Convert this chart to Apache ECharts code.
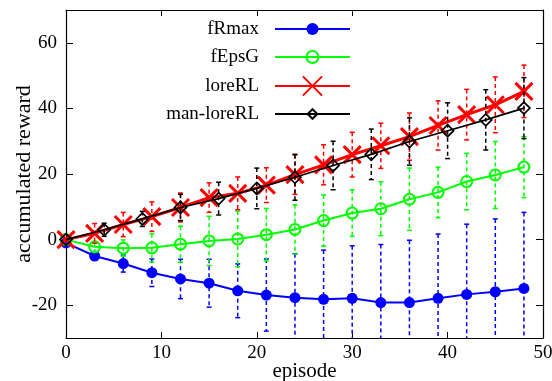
<!DOCTYPE html>
<html>
<head>
<meta charset="utf-8">
<script src="https://cdn.jsdelivr.net/npm/echarts@6/dist/echarts.min.js"></script>
<style>html,body{margin:0;padding:0;background:#fff;}#c{width:552px;height:381px;}</style>
</head>
<body>
<div id="c"></div>
<script>
// ---- data ----
const episodes3 = [0,3,6,9,12,15,18,21,24,27,30,33,36,39,42,45,48];
const episodes4 = [0,4,8,12,16,20,24,28,32,36,40,44,48];
const fRmaxMean = [-1,-5,-7.3,-10.1,-12,-13.3,-15.6,-16.9,-17.7,-18.2,-17.9,-19.2,-19.2,-17.9,-16.7,-15.9,-14.9];
const fRmaxErr  = [0,1,2.6,4.2,6,7.3,8.2,11,13.4,15,16,17.7,19,19.6,21.4,22.2,23.2];
const fEpsGMean = [0,-2.2,-2.6,-2.5,-1.4,-0.4,0.2,1.5,3.1,5.8,8.1,9.4,12.3,14.4,17.7,19.7,22.1];
const fEpsGErr  = [0,1.5,2.5,4.3,5.5,7.5,8.5,8,7.5,7.8,7.1,8.2,9.5,7.7,8.6,10.2,9.3];
const loreMean  = [0,1.9,4.6,7,9.8,12.8,14.1,16.6,19.8,22.8,25.9,28.6,31.4,34.8,38.1,41.1,45.2];
const loreErr   = [0,3,3.7,4.5,4.4,4.5,5,5.3,6,6.1,6.8,6.9,7.2,7.5,7.7,8.5,8];
const manMean   = [0,3,6.3,9.8,12.5,15.6,19,22.6,26,29.9,33.2,36.5,40.1];
const manErr    = [0,2,2.3,4,5,6.2,7,7.4,7.7,7.2,8.5,9.2,9.3];
const yTickValues = [-20,0,20,40,60];
const seriesNames = ['fRmax','fEpsG','loreRL','man-loreRL'];

const FONT = 'Liberation Serif';
const pts = (xs, ys) => xs.map((x,i)=>[x, ys[i]]);
const errs = (xs, m, e) => xs.map((x,i)=>[x, m[i]-e[i], m[i]+e[i]]);

function errRender(color){
  return function(params, api){
    const x = api.value(0), lo = api.value(1), hi = api.value(2);
    if (hi - lo <= 0) return null;
    const a = api.coord([x, hi]), b = api.coord([x, lo]);
    const c = 2.5;
    const st = {stroke: color, lineWidth: 1.5};
    return {type:'group', children:[
      {type:'line', shape:{x1:a[0],y1:a[1],x2:b[0],y2:b[1]}, style:{stroke:color,lineWidth:1.5,lineDash:[4,3]}},
      {type:'line', shape:{x1:a[0]-c,y1:a[1],x2:a[0]+c,y2:a[1]}, style:st},
      {type:'line', shape:{x1:b[0]-c,y1:b[1],x2:b[0]+c,y2:b[1]}, style:st}
    ]};
  };
}
function errSeries(color, data, z){
  return {type:'custom', renderItem: errRender(color), data: data, clip: true, z: z,
          encode:{x:0, y:[1,2]}, silent:true, legendHoverLink:false, tooltip:{show:false}};
}

const XPATH = 'path://M0,0L10,10M10,0L0,10';
const DPATH = 'path://M5,0L10,5L5,10L0,5Z';

const colors = ['#0000ff','#00ff00','#ff0000','#000000'];
const series = [
  errSeries(colors[0], errs(episodes3, fRmaxMean, fRmaxErr), 2),
  {name: seriesNames[0], type:'line', data: pts(episodes3, fRmaxMean), z:3,
   symbol:'circle', symbolSize:11, lineStyle:{color:colors[0], width:2},
   itemStyle:{color:colors[0]}},
  errSeries(colors[1], errs(episodes3, fEpsGMean, fEpsGErr), 4),
  {name: seriesNames[1], type:'line', data: pts(episodes3, fEpsGMean), z:5,
   symbol:'circle', symbolSize:11, lineStyle:{color:colors[1], width:2},
   itemStyle:{color:'rgba(0,0,0,0)', borderColor:colors[1], borderWidth:2}},
  errSeries(colors[2], errs(episodes3, loreMean, loreErr), 6),
  {name: seriesNames[2], type:'line', data: pts(episodes3, loreMean), z:7,
   symbol:XPATH, symbolSize:17, lineStyle:{color:colors[2], width:3},
   itemStyle:{color:'rgba(0,0,0,0)', borderColor:colors[2], borderWidth:3}},
  errSeries(colors[3], errs(episodes4, manMean, manErr), 8),
  {name: seriesNames[3], type:'line', data: pts(episodes4, manMean), z:9,
   symbol:DPATH, symbolSize:12, lineStyle:{color:colors[3], width:1.7},
   itemStyle:{color:'rgba(0,0,0,0)', borderColor:colors[3], borderWidth:1.7}}
];
series.forEach(s=>{ if(s.type==='line'){ s.animation=false; s.showAllSymbol=true; }});

const legendCenters = [29, 57, 86, 114];
const legendHeights = [15, 15, 24, 12];
const legends = seriesNames.map((n,i)=>({
  data:[n], orient:'vertical', right: 196, top: legendCenters[i] - 5 - 11,
  align:'right', itemWidth:75, itemHeight: legendHeights[i], selectedMode:false,
  textStyle:{fontFamily:FONT, fontSize:19, color:'#000', padding:[0,11,0,0], lineHeight:22}
}));

const axisCommon = {
  axisLine:{show:true, onZero:false, lineStyle:{color:'#000', width:1.2}},
  splitLine:{show:false},
};

const option = {
  animation:false,
  backgroundColor:'#fff',
  grid:{left:66, right:9, top:10, bottom:43, outerBoundsMode:'none', containLabel:false},
  legend: legends,
  xAxis:[
    Object.assign({type:'value', min:0, max:50, interval:10, position:'bottom',
      name:'episode', nameLocation:'middle', nameGap:23, nameMoveOverlap:false,
      nameTextStyle:{fontFamily:FONT, fontSize:21, color:'#000'},
      axisTick:{show:true, inside:true, length:6, lineStyle:{color:'#000'}},
      axisLabel:{fontFamily:FONT, fontSize:19, color:'#000', margin:6}}, axisCommon),
    Object.assign({type:'value', min:0, max:50, interval:10, position:'top',
      axisTick:{show:true, inside:true, length:6, lineStyle:{color:'#000'}},
      axisLabel:{show:false}}, axisCommon)
  ],
  yAxis:[
    Object.assign({type:'value', min:-30, max:70, position:'left',
      name:'accumulated reward', nameLocation:'middle', nameGap:31, nameRotate:90, nameMoveOverlap:false,
      nameTextStyle:{fontFamily:FONT, fontSize:22, color:'#000'},
      axisTick:{show:true, inside:true, length:7, customValues: yTickValues, lineStyle:{color:'#000'}},
      axisLabel:{fontFamily:FONT, fontSize:19, color:'#000', margin:9, customValues: yTickValues}}, axisCommon),
    Object.assign({type:'value', min:-30, max:70, position:'right',
      axisTick:{show:true, inside:true, length:7, customValues: yTickValues, lineStyle:{color:'#000'}},
      axisLabel:{show:false}}, axisCommon)
  ],
  series: series
};

const chart = echarts.init(document.getElementById('c'), null, {renderer:'canvas'});
chart.setOption(option);
</script>
</body>
</html>
